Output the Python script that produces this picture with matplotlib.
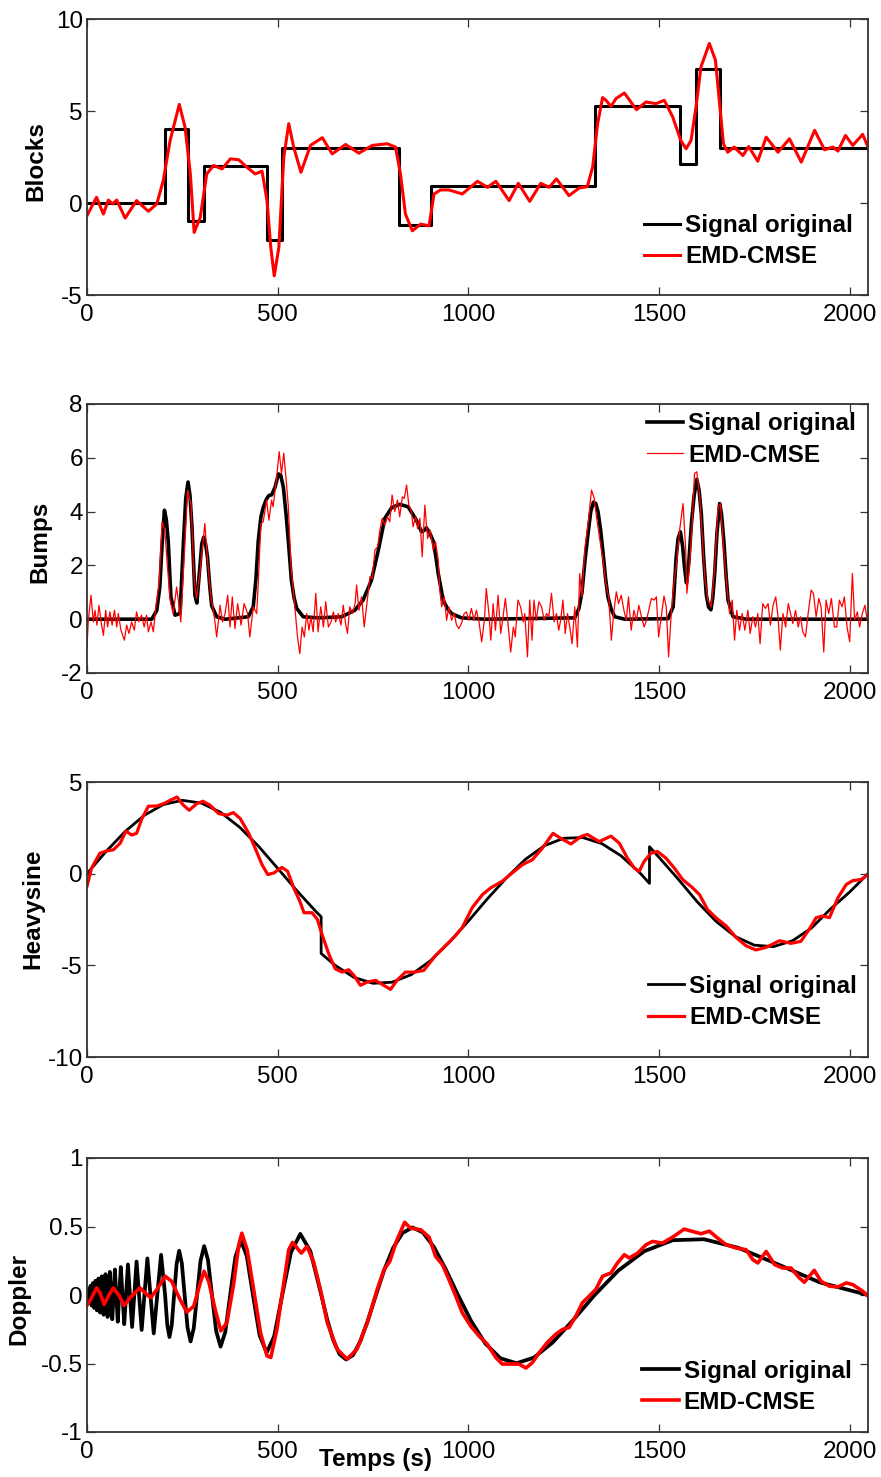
import matplotlib
matplotlib.use("Agg")
import matplotlib.pyplot as plt

plt.rcParams['font.family'] = ['Liberation Sans', 'DejaVu Sans']

# ---------------- data ----------------
x_ticks = [0, 500, 1000, 1500, 2000]
legend_labels = ["Signal original", "EMD-CMSE"]
panel_names = ["Blocks", "Bumps", "Heavysine", "Doppler"]

blocks_edges = [0, 205, 266, 307, 471, 512, 819, 901, 1331, 1556, 1597, 1659, 2048]
blocks_levels = [0, 4.0, -1.0, 2.0, -2.0, 3.0, -1.2, 0.9, 5.25, 2.1, 7.3, 3.0]

blocks_emd = [(0, -0.69), (25, 0.31), (43, -0.6), (56, 0.16), (67, -0.05), (78, 0.16), (100, -0.82),
              (130, 0.13), (161, -0.45), (183, -0.05), (200, 1.22), (218, 3.4), (242, 5.36), (257, 4.13),
              (271, 1.58), (281, -1.6), (297, -0.78), (314, 1.58), (332, 2.04), (354, 1.85), (376, 2.4),
              (398, 2.35), (419, 1.95), (441, 1.58), (459, 1.73), (472, 0.13), (482, -2.42), (491, -3.96),
              (503, -2.42), (516, 2.49), (529, 4.31), (542, 3.04), (561, 1.67), (586, 3.13), (617, 3.55),
              (643, 2.67), (678, 3.18), (713, 2.71), (748, 3.13), (787, 3.22), (809, 3.04), (822, 1.58),
              (835, -0.6), (853, -1.51), (875, -1.15), (897, -1.24), (910, 0.49), (927, 0.71), (949, 0.71),
              (984, 0.49), (1024, 1.18), (1050, 0.85), (1072, 1.18), (1107, 0.13), (1131, 1.07),
              (1161, 0.09), (1190, 1.07), (1212, 0.85), (1231, 1.31), (1264, 0.4), (1291, 0.82),
              (1312, 0.89), (1326, 1.95), (1339, 4.31), (1352, 5.73), (1361, 5.58), (1374, 5.25),
              (1387, 5.67), (1409, 5.98), (1441, 5.07), (1466, 5.49), (1492, 5.4), (1514, 5.58),
              (1536, 4.67), (1557, 3.4), (1571, 2.95), (1584, 3.4), (1597, 5.22), (1610, 7.4),
              (1632, 8.67), (1648, 7.76), (1658, 5.58), (1669, 3.22), (1680, 2.76), (1697, 3.04),
              (1720, 2.58), (1735, 3.07), (1759, 2.27), (1781, 3.58), (1812, 2.76), (1842, 3.49),
              (1873, 2.22), (1908, 3.95), (1934, 2.89), (1956, 3.04), (1969, 2.82), (1989, 3.67),
              (2008, 3.13), (2034, 3.73), (2048, 3.04)]

bumps_orig = [(0, 0), (170, 0), (183, 0.33), (191, 1.2), (197, 2.8), (203, 4.05), (208, 3.7), (213, 2.9),
              (220, 0.83), (231, 0.15), (244, 0.21), (253, 2.9), (259, 4.5), (265, 5.1), (270, 4.6),
              (275, 3.5), (283, 0.9), (288, 0.6), (296, 1.95), (301, 2.8), (306, 3.05), (311, 2.8),
              (316, 2.3), (322, 1.2), (327, 0.5), (340, 0.09), (362, 0), (423, 0.09), (436, 0.46),
              (443, 1.5), (449, 2.9), (456, 3.8), (462, 4.15), (470, 4.45), (477, 4.6), (484, 4.62),
              (493, 4.9), (502, 5.4), (508, 5.35), (515, 4.9), (522, 3.9), (528, 2.9), (536, 1.45),
              (543, 0.8), (550, 0.4), (567, 0.09), (606, 0.05), (668, 0.09), (702, 0.33), (724, 0.71),
              (746, 1.45), (764, 2.57), (781, 3.75), (799, 4.15), (820, 4.27), (842, 4.18), (864, 3.68),
              (877, 3.25), (884, 3.3), (890, 3.4), (899, 3.2), (908, 2.9), (915, 2.3), (921, 1.7),
              (934, 0.71), (945, 0.4), (956, 0.21), (982, 0.05), (1043, 0), (1279, 0.05), (1290, 0.4),
              (1298, 1.0), (1306, 2.2), (1314, 3.2), (1321, 4.0), (1328, 4.35), (1334, 4.3), (1340, 4.0),
              (1347, 3.3), (1353, 2.5), (1360, 1.5), (1366, 0.83), (1375, 0.35), (1384, 0.09), (1410, 0),
              (1524, 0.02), (1537, 0.46), (1545, 2.3), (1550, 3.0), (1556, 3.25), (1562, 2.7),
              (1567, 1.9), (1572, 1.35), (1578, 2.1), (1585, 3.56), (1592, 4.6), (1599, 5.2),
              (1605, 4.8), (1611, 3.9), (1617, 2.3), (1624, 0.9), (1630, 0.45), (1636, 0.35),
              (1641, 0.8), (1646, 1.7), (1652, 3.2), (1659, 4.3), (1664, 3.9), (1670, 2.9), (1676, 1.6),
              (1681, 0.71), (1694, 0.09), (1729, 0), (2048, 0)]

bumps_emd = [(0, -1.03), (3.5, -0.04), (10.5, 0.89), (16.6, -0.1), (21, 0.33), (26, -0.22), (31.5, 0.52),
             (37, -0.1), (43, -0.6), (49, 0.33), (54, -0.29), (60, 0.27), (66, -0.22), (72, 0.33),
             (78, -0.29), (82, 0.21), (89, -0.41), (98, -0.78), (104, -0.22), (110, -0.53), (117, -0.1),
             (124, -0.41), (130, 0.27), (136, -0.1), (143, 0.15), (150, -0.29), (156, 0.15), (161, -0.47),
             (168, -0.1), (174, -0.47), (181, 0.52), (189, 1.33), (197, 3.62), (204, 3.31), (211, 1.95),
             (218, 0.71), (226, 0.21), (235, 1.2), (240, 0.65), (246, -0.1), (254, 2.07), (264, 4.8),
             (273, 4.24), (281, 1.45), (287, 0.77), (296, 1.7), (309, 3.56), (316, 2.2), (325, 0.83),
             (335, -0.04), (340, -0.66), (349, 0.52), (355, -0.1), (362, 0.21), (369, 0.89), (375, -0.29),
             (381, 0.83), (388, -0.35), (395, 0.58), (404, -0.22), (412, 0.58), (421, 0.21), (427, -0.66),
             (436, 0.46), (445, 0.21), (449, 1.33), (456, 3.56), (462, 3.62), (471, 4.43), (477, 3.68),
             (484, 4.43), (488, 4.18), (497, 5.24), (504, 6.23), (510, 5.42), (516, 6.17), (523, 5.05),
             (528, 4.18), (535, 1.95), (545, 0.46), (552, -0.66), (558, -1.28), (564, -0.29), (570, -0.66),
             (576, 0.21), (582, -0.41), (587, 0.09), (593, -0.47), (600, 0.96), (606, -0.47), (613, 0.46),
             (620, -0.29), (626, 0.65), (633, -0.29), (640, -0.1), (646, 0.27), (652, -0.1), (659, 0.21),
             (666, -0.22), (672, 0.52), (678, -0.16), (683, -0.53), (689, 0.46), (696, 0.21), (703, 0.58),
             (707, 1.27), (713, 0.33), (720, 0.83), (727, -0.29), (733, 0.46), (742, 1.58), (748, 1.51),
             (755, 2.57), (762, 2.69), (768, 3.31), (774, 3.75), (781, 3.5), (788, 3.81), (794, 3.62),
             (800, 4.62), (807, 4.0), (814, 4.43), (820, 3.81), (827, 4.55), (832, 4.49), (838, 4.99),
             (844, 4.24), (851, 4.0), (855, 3.44), (862, 3.81), (867, 3.37), (873, 3.75), (879, 2.32),
             (886, 4.24), (893, 3.0), (900, 3.31), (908, 2.57), (914, 2.88), (921, 2.2), (925, 1.08),
             (930, 0.46), (937, 0.83), (943, -0.04), (949, 0.46), (956, -0.04), (963, 0.21), (969, -0.22),
             (975, -0.35), (982, -0.16), (989, 0.21), (995, 0.27), (1001, -0.04), (1008, 0.4),
             (1015, -0.04), (1021, 0.33), (1028, -0.1), (1035, -0.84), (1042, -0.04), (1047, 1.14),
             (1054, 0.21), (1059, -0.78), (1065, 0.58), (1071, -0.41), (1078, 0.89), (1085, -0.53),
             (1091, 0.09), (1097, 0.77), (1104, -0.16), (1111, -1.22), (1118, -0.29), (1123, -0.66),
             (1130, 0.71), (1137, 0.46), (1144, -0.1), (1148, 0.21), (1155, -1.4), (1161, 0.71),
             (1167, -0.78), (1172, 0.71), (1178, -0.04), (1185, 0.65), (1192, 0.46), (1199, -0.04),
             (1205, 0.21), (1211, 0.09), (1218, 0.96), (1225, -0.1), (1231, 0.21), (1237, -0.41),
             (1242, -0.04), (1248, 0.71), (1254, -0.53), (1260, 0.21), (1266, -0.29), (1272, -0.91),
             (1279, 0.46), (1286, -1.03), (1292, 1.7), (1298, 0.83), (1305, 2.57), (1314, 3.56),
             (1323, 4.8), (1330, 4.49), (1336, 3.81), (1345, 2.94), (1353, 2.2), (1362, 1.2), (1368, 0.83),
             (1375, -0.78), (1381, 0.21), (1388, 1.02), (1394, 0.58), (1401, 0.89), (1408, 0.33),
             (1414, -0.04), (1420, 0.83), (1427, -0.41), (1434, 0.33), (1441, -0.04), (1447, 0.52),
             (1454, 0.09), (1461, -0.29), (1467, -0.04), (1473, 0.33), (1480, 0.77), (1487, 0.71),
             (1493, 0.83), (1499, -0.66), (1506, 0.09), (1513, 0.86), (1519, 0.46), (1525, -1.4),
             (1532, 0.21), (1539, 1.33), (1545, 1.95), (1554, 3.31), (1563, 4.3), (1570, 2.57),
             (1573, 0.96), (1580, 1.95), (1587, 3.56), (1593, 5.42), (1599, 5.48), (1606, 4.68),
             (1613, 3.19), (1620, 1.58), (1628, 0.71), (1637, 0.46), (1646, 1.95), (1655, 4.18),
             (1661, 4.3), (1669, 2.69), (1678, 1.2), (1685, 0.21), (1692, 0.71), (1698, -0.78),
             (1704, 0.33), (1711, -0.41), (1718, 0.21), (1725, -0.41), (1733, 0.33), (1739, -0.53),
             (1746, 0.09), (1753, -0.29), (1759, 0.21), (1765, -0.91), (1772, 0.58), (1779, 0.4),
             (1786, 0.58), (1792, -0.22), (1799, 0.52), (1806, 0.83), (1812, 0.09), (1818, -1.15),
             (1825, 0.21), (1832, -0.29), (1839, 0.58), (1845, 0.21), (1851, -0.16), (1858, 0.33),
             (1865, -0.29), (1871, 0.09), (1877, -0.47), (1884, -0.66), (1891, 0.21), (1899, 1.08),
             (1905, 0.96), (1912, 0.09), (1919, 0.77), (1925, 0.46), (1932, -1.22), (1938, 0.71),
             (1945, 0.21), (1952, 0.77), (1960, -0.29), (1966, -0.29), (1973, 0.71), (1980, 0.46),
             (1986, 0.83), (1993, -0.29), (2000, -0.84), (2007, 1.7), (2013, -0.04), (2020, 0.27),
             (2026, -0.29), (2033, 0.21), (2040, 0.52), (2046, -0.04), (2048, 0.21)]

heavy_orig = [(0, 0), (25, 0.61), (50, 1.21), (100, 2.3), (150, 3.18), (200, 3.77), (250, 4.0), (300, 3.85),
              (350, 3.35), (400, 2.54), (450, 1.49), (500, 0.29), (550, -0.92), (600, -2.06), (614, -2.35),
              (614, -4.35), (650, -4.99), (700, -5.66), (750, -5.98), (800, -5.92), (850, -5.51),
              (900, -4.76), (950, -3.74), (1000, -2.59), (1050, -1.37), (1100, -0.23), (1150, 0.79),
              (1200, 1.53), (1250, 1.93), (1300, 1.97), (1350, 1.64), (1400, 0.98), (1450, 0.04),
              (1475, -0.53), (1475, 1.47), (1500, 0.89), (1550, -0.29), (1600, -1.53), (1650, -2.61),
              (1700, -3.43), (1750, -3.9), (1800, -3.98), (1850, -3.66), (1900, -2.96), (1950, -1.92),
              (2000, -1.0), (2048, 0)]

heavy_emd = [(0, -0.68), (12, 0.31), (34, 1.12), (52, 1.24), (69, 1.3), (87, 1.66), (102, 2.32), (117, 2.11),
             (130, 2.2), (144, 3.0), (161, 3.68), (183, 3.69), (201, 3.82), (218, 4.0), (236, 4.18),
             (253, 3.73), (268, 3.46), (288, 3.82), (304, 3.95), (323, 3.73), (345, 3.28), (367, 3.19),
             (384, 3.33), (402, 3.0), (424, 2.2), (441, 1.39), (459, 0.49), (474, -0.05), (490, 0.04),
             (511, 0.34), (526, 0.13), (542, -0.77), (558, -1.5), (569, -2.13), (590, -2.13), (604, -2.49),
             (616, -3.3), (634, -4.38), (651, -5.19), (669, -5.37), (686, -5.24), (700, -5.55), (717, -6.09),
             (735, -5.91), (757, -5.82), (778, -6.09), (796, -6.31), (813, -5.82), (835, -5.37),
             (857, -5.37), (883, -5.28), (914, -4.47), (940, -3.93), (962, -3.48), (984, -2.94),
             (1010, -1.86), (1037, -1.14), (1059, -0.77), (1089, -0.41), (1115, 0.04), (1142, 0.49),
             (1168, 0.76), (1194, 1.39), (1222, 2.2), (1242, 1.93), (1269, 1.62), (1295, 2.02),
             (1312, 2.14), (1343, 1.75), (1374, 2.05), (1396, 1.66), (1417, 0.85), (1435, 0.31),
             (1448, 0.13), (1461, 0.67), (1479, 1.12), (1496, 1.21), (1518, 0.85), (1540, 0.31),
             (1562, -0.32), (1588, -0.77), (1606, -1.14), (1627, -1.95), (1649, -2.4), (1676, -2.85),
             (1702, -3.48), (1728, -3.93), (1754, -4.16), (1781, -4.02), (1816, -3.66), (1846, -3.8),
             (1872, -3.69), (1894, -3.03), (1912, -2.4), (1929, -2.31), (1947, -2.4), (1969, -1.32),
             (1991, -0.59), (2008, -0.38), (2030, -0.32), (2048, -0.05)]

doppler_orig = [(0, 0), (1.2, -0.024), (2.5, 0), (3.8, 0.043), (5.1, 0), (6.5, -0.056), (7.9, 0), (9.3, 0.067),
                (10.8, 0), (12.3, -0.077), (13.8, 0), (15.4, 0.087), (17.1, 0), (18.7, -0.095), (20.5, 0),
                (22.3, 0.104), (24.1, 0), (26, -0.112), (27.9, 0), (29.9, 0.12), (32, 0), (34.1, -0.128),
                (36.3, 0), (38.6, 0.136), (41, 0), (43.4, -0.144), (45.9, 0), (48.5, 0.152), (51.2, 0),
                (54, -0.16), (56.9, 0), (59.9, 0.169), (63, 0), (66.3, -0.177), (69.6, 0), (73.1, 0.186),
                (76.8, 0), (80.6, -0.195), (84.6, 0), (88.7, 0.204), (93.1, 0), (97.6, -0.213), (102.4, 0),
                (107.4, 0.223), (112.6, 0), (118.2, -0.233), (124, 0), (130, 0.244), (136.5, 0),
                (143.4, -0.255), (150.6, 0), (158.3, 0.267), (166.4, 0), (175, -0.28), (184.3, 0),
                (194.2, 0.293), (204.8, 0), (210.4, -0.215), (216.2, -0.307), (222.2, -0.22), (228.4, 0),
                (234.9, 0.225), (241.7, 0.323), (248.7, 0.231), (256, 0), (263.6, -0.237), (271.6, -0.339),
                (279.9, -0.243), (288.6, 0), (297.7, 0.249), (307.2, 0.357), (317.2, 0.256), (327.7, 0),
                (338.7, -0.263), (350.3, -0.377), (362.6, -0.27), (375.5, 0), (389.1, 0.277),
                (403.6, 0.398), (418.9, 0.285), (435.2, 0), (452.5, -0.293), (471, -0.421),
                (490.8, -0.302), (512, 0), (534.8, 0.311), (559.3, 0.446), (585.7, 0.32), (614.4, 0),
                (629.7, -0.177), (645.6, -0.329), (662.2, -0.432), (679.6, -0.471), (697.8, -0.438),
                (716.8, -0.337), (736.8, -0.184), (757.8, 0), (779.8, 0.186), (803, 0.345), (827.5, 0.453),
                (853.3, 0.493), (880.6, 0.457), (909.6, 0.351), (940.2, 0.191), (972.8, 0),
                (1007.5, -0.191), (1044.5, -0.354), (1084, -0.462), (1126.4, -0.498), (1171.9, -0.457),
                (1220.9, -0.347), (1273.9, -0.186), (1331.2, 0), (1393.5, 0.179), (1461.5, 0.32),
                (1536, 0.4), (1617.9, 0.407), (1708.5, 0.344), (1809, 0.227), (1921.5, 0.092), (2048, 0)]

doppler_emd = [(0, -0.076), (12, -0.02), (25, 0.052), (34, 0.016), (45, -0.069), (56, -0.008), (69, 0.052),
               (85, -0.008), (97, -0.076), (117, -0.008), (139, 0.052), (157, 0.004), (167, -0.02),
               (183, 0.04), (205, 0.137), (222, 0.1), (244, -0.033), (262, -0.125), (280, -0.081),
               (297, 0.088), (307, 0.173), (319, 0.1), (336, -0.105), (351, -0.262), (367, -0.202),
               (385, 0.088), (398, 0.367), (406, 0.451), (420, 0.33), (437, 0.04), (455, -0.275),
               (472, -0.444), (482, -0.456), (498, -0.251), (516, 0.088), (529, 0.33), (539, 0.384),
               (551, 0.343), (562, 0.306), (577, 0.355), (595, 0.234), (612, 0.04), (630, -0.202),
               (656, -0.396), (682, -0.468), (708, -0.396), (735, -0.202), (761, 0.04), (779, 0.185),
               (794, 0.246), (813, 0.403), (833, 0.531), (848, 0.488), (875, 0.476), (897, 0.423),
               (914, 0.282), (932, 0.222), (949, 0.113), (967, -0.008), (984, -0.129), (1006, -0.226),
               (1028, -0.299), (1050, -0.36), (1072, -0.456), (1089, -0.504), (1111, -0.504),
               (1133, -0.504), (1151, -0.533), (1168, -0.493), (1186, -0.42), (1207, -0.347),
               (1229, -0.287), (1247, -0.251), (1264, -0.238), (1282, -0.154), (1299, -0.057),
               (1317, -0.008), (1334, 0.04), (1352, 0.137), (1374, 0.161), (1391, 0.234), (1409, 0.294),
               (1422, 0.27), (1444, 0.306), (1466, 0.367), (1483, 0.391), (1509, 0.379), (1536, 0.423),
               (1566, 0.481), (1588, 0.464), (1610, 0.447), (1632, 0.466), (1654, 0.415), (1676, 0.367),
               (1702, 0.343), (1728, 0.331), (1746, 0.258), (1759, 0.234), (1781, 0.318), (1803, 0.222),
               (1824, 0.197), (1846, 0.197), (1868, 0.125), (1881, 0.093), (1907, 0.18), (1925, 0.1),
               (1947, 0.064), (1969, 0.059), (1991, 0.088), (2008, 0.076), (2034, 0.028), (2048, -0.008)]

y_limits = [(-5, 10), (-2, 8), (-10, 5), (-1, 1)]
y_ticks = [[-5, 0, 5, 10], [-2, 0, 2, 4, 6, 8], [-10, -5, 0, 5], [-1, -0.5, 0, 0.5, 1]]
y_ticklabels = [["-5", "0", "5", "10"], ["-2", "0", "2", "4", "6", "8"], ["-10", "-5", "0", "5"],
                ["-1", "-0.5", "0", "0.5", "1"]]

# ---------------- layout ----------------
FW, FH = 881, 1477
fig = plt.figure(figsize=(FW / 100, FH / 100), dpi=100)

panel_px = [(19, 295), (404, 673), (782, 1057), (1158, 1432)]
left_px, right_px = 87, 868
axes = []
for top, bot in panel_px:
    ax = fig.add_axes([left_px / FW, (FH - bot) / FH, (right_px - left_px) / FW, (bot - top) / FH])
    axes.append(ax)

FS = 17.5
black_lw = [2.2, 2.6, 2.0, 2.7]
red_lw = [2.2, 0.9, 2.3, 2.6]
ylabel_pos = [(-0.066, 0.486), (-0.06, 0.487), (-0.069, 0.54), (-0.087, 0.485)]
legend_anchor = [(0.713, 0.194), (0.717, 0.868), (0.718, 0.2), (0.711, 0.165)]

def xy(pairs):
    xs, ys = zip(*pairs)
    return list(xs), list(ys)

for i, ax in enumerate(axes):
    if i == 0:
        ax.step(blocks_edges, blocks_levels + [blocks_levels[-1]], where='post',
                color='black', lw=black_lw[i], label=legend_labels[0])
        rx, ry = xy(blocks_emd)
    elif i == 1:
        bx, by = xy(bumps_orig)
        ax.plot(bx, by, color='black', lw=black_lw[i], label=legend_labels[0])
        rx, ry = xy(bumps_emd)
    elif i == 2:
        bx, by = xy(heavy_orig)
        ax.plot(bx, by, color='black', lw=black_lw[i], label=legend_labels[0])
        rx, ry = xy(heavy_emd)
    else:
        bx, by = xy(doppler_orig)
        ax.plot(bx, by, color='black', lw=black_lw[i], label=legend_labels[0])
        rx, ry = xy(doppler_emd)
    ax.plot(rx, ry, color='#ff0000', lw=red_lw[i], label=legend_labels[1])

    ax.set_xlim(0, 2048)
    ax.set_ylim(*y_limits[i])
    ax.set_xticks(x_ticks)
    ax.set_xticklabels([str(v) for v in x_ticks])
    ax.set_yticks(y_ticks[i])
    ax.set_yticklabels(y_ticklabels[i])
    ax.tick_params(direction='in', length=6, width=0.9, top=True, right=True,
                   labelsize=FS, color='#333333', labelcolor='black')
    ax.tick_params(axis='x', pad=6.5)
    ax.tick_params(axis='y', pad=3)
    for sp in ax.spines.values():
        sp.set_linewidth(1.3)
        sp.set_color('#333333')

    ax.text(ylabel_pos[i][0], ylabel_pos[i][1], panel_names[i], transform=ax.transAxes,
            rotation=90, ha='center', va='center', fontsize=FS, fontweight='bold')

    ax.legend(loc='center left', bbox_to_anchor=legend_anchor[i], frameon=False,
              borderpad=0, borderaxespad=0, handlelength=1.5, handletextpad=0.2,
              labelspacing=0.33, prop={'size': FS, 'weight': 'bold'})

axes[3].text(0.369, -0.1, "Temps (s)", transform=axes[3].transAxes, ha='center', va='center',
             fontsize=FS, fontweight='bold')

fig.savefig("out.png", dpi=100)
